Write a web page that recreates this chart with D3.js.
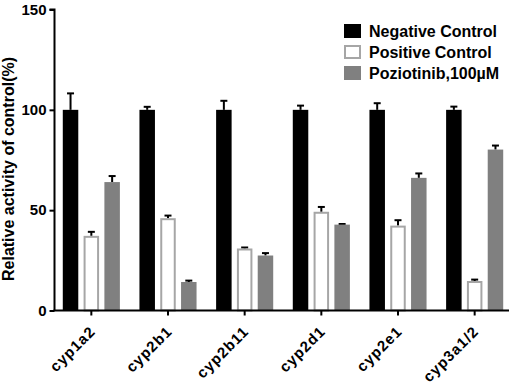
<!DOCTYPE html>
<html><head><meta charset="utf-8">
<script src="https://cdn.jsdelivr.net/npm/d3@7"></script>
<style>
body{margin:0;background:#fff;}
svg{display:block;font-family:"Liberation Sans",Arial,sans-serif;font-weight:bold;}
</style></head>
<body><svg id="chart" width="512" height="386"></svg>
<script>
const categories = ["cyp1a2","cyp2b1","cyp2b11","cyp2d1","cyp2e1","cyp3a1/2"];
const seriesNames = ["Negative Control","Positive Control","Poziotinib,100\u00b5M"];
const negativeMean = [100,100,100,100,100,100];
const negativeErr  = [8.2,1.5,4.5,2.1,3.3,1.6];
const positiveMean = [37.2,46,30.9,49.2,42.3,14.7];
const positiveErr  = [2,1.3,0.5,2.4,2.7,0.7];
const poziMean     = [64,14.2,27.4,42.8,66.1,80.2];
const poziErr      = [3,0.7,1.2,0.3,2.2,2];
const yTicks = [0,50,100,150];

const means = [negativeMean, positiveMean, poziMean];
const errs = [negativeErr, positiveErr, poziErr];
const fills = ["#000000","#ffffff","#808080"];
const strokes = ["#000000","#a6a6a6","#808080"];

const svg = d3.select("#chart");
const y = d3.scaleLinear().domain([0,150]).range([310.5,9.5]);
const x = d3.scaleBand().domain(categories).range([53,513]).padding(0);
const xs = d3.scaleBand().domain(seriesNames).range([-28.55,28.55]).paddingInner(0.255).paddingOuter(0);

const data = [];
categories.forEach((c,i)=>{
  seriesNames.forEach((s,j)=>{
    data.push({c, s, j, v: means[j][i], e: errs[j][i]});
  });
});

// error bars (upper only)
const eg = svg.append("g");
data.forEach(d=>{
  const cx = x(d.c) + x.bandwidth()/2 + xs(d.s) + xs.bandwidth()/2;
  eg.append("line").attr("x1",cx).attr("x2",cx).attr("y1",y(d.v)).attr("y2",y(d.v+d.e))
    .attr("stroke","#000").attr("stroke-width",2);
  eg.append("line").attr("x1",cx-3.5).attr("x2",cx+3.5).attr("y1",y(d.v+d.e)).attr("y2",y(d.v+d.e))
    .attr("stroke","#000").attr("stroke-width",2);
});

// bars
svg.append("g").selectAll("rect").data(data).join("rect")
  .attr("x", d => x(d.c) + x.bandwidth()/2 + xs(d.s) + (d.j===1?1:0))
  .attr("y", d => y(d.v) + (d.j===1?1:0))
  .attr("width", d => xs.bandwidth() - (d.j===1?2:0))
  .attr("height", d => y(0) - y(d.v) - (d.j===1?1:0))
  .attr("fill", d => fills[d.j])
  .attr("stroke", d => d.j===1 ? strokes[1] : "none")
  .attr("stroke-width", 2);

// y axis
const ya = svg.append("g").attr("transform","translate(54.5,0)")
  .call(d3.axisLeft(y).tickValues(yTicks).tickSize(5).tickPadding(3).tickFormat(d3.format("d")));
ya.select(".domain").attr("stroke-width",2).attr("d","M-5,"+y(150)+"H0V"+y(0));
ya.selectAll(".tick line").attr("stroke-width",2);
ya.selectAll(".tick text").attr("font-size",15).attr("font-family","Liberation Sans, Arial, sans-serif").attr("font-weight","bold").attr("fill","#000");

// x axis
const xa = svg.append("g").attr("transform","translate(0,"+y(0)+")")
  .call(d3.axisBottom(x).tickSize(5).tickSizeOuter(0));
xa.select(".domain").attr("stroke-width",2).attr("d","M53.5,0H509");
xa.selectAll(".tick line").attr("stroke-width",2);
xa.selectAll(".tick text")
  .attr("font-size",15).attr("font-family","Liberation Sans, Arial, sans-serif").attr("font-weight","bold")
  .attr("fill","#000").attr("letter-spacing","1px")
  .attr("text-anchor","end").attr("dy",null).attr("y",null)
  .attr("transform","translate(5,22) rotate(-45)");

// y title
svg.append("text").attr("transform","translate(14,169) rotate(-90)")
  .attr("text-anchor","middle").attr("font-size",16).text("Relative activity of control(%)");

// legend
const lg = svg.append("g");
seriesNames.forEach((s,j)=>{
  const cy = 31 + j*21;
  lg.append("rect").attr("x", 344 + (j===1?1:0)).attr("y", cy-7 + (j===1?1:0))
    .attr("width", 17 - (j===1?2:0)).attr("height", 14 - (j===1?2:0))
    .attr("fill", fills[j]).attr("stroke", j===1?strokes[1]:"none").attr("stroke-width",2);
  lg.append("text").attr("x",369).attr("y",cy).attr("dy","0.35em").attr("font-size",16).text(s);
});
</script></body></html>
